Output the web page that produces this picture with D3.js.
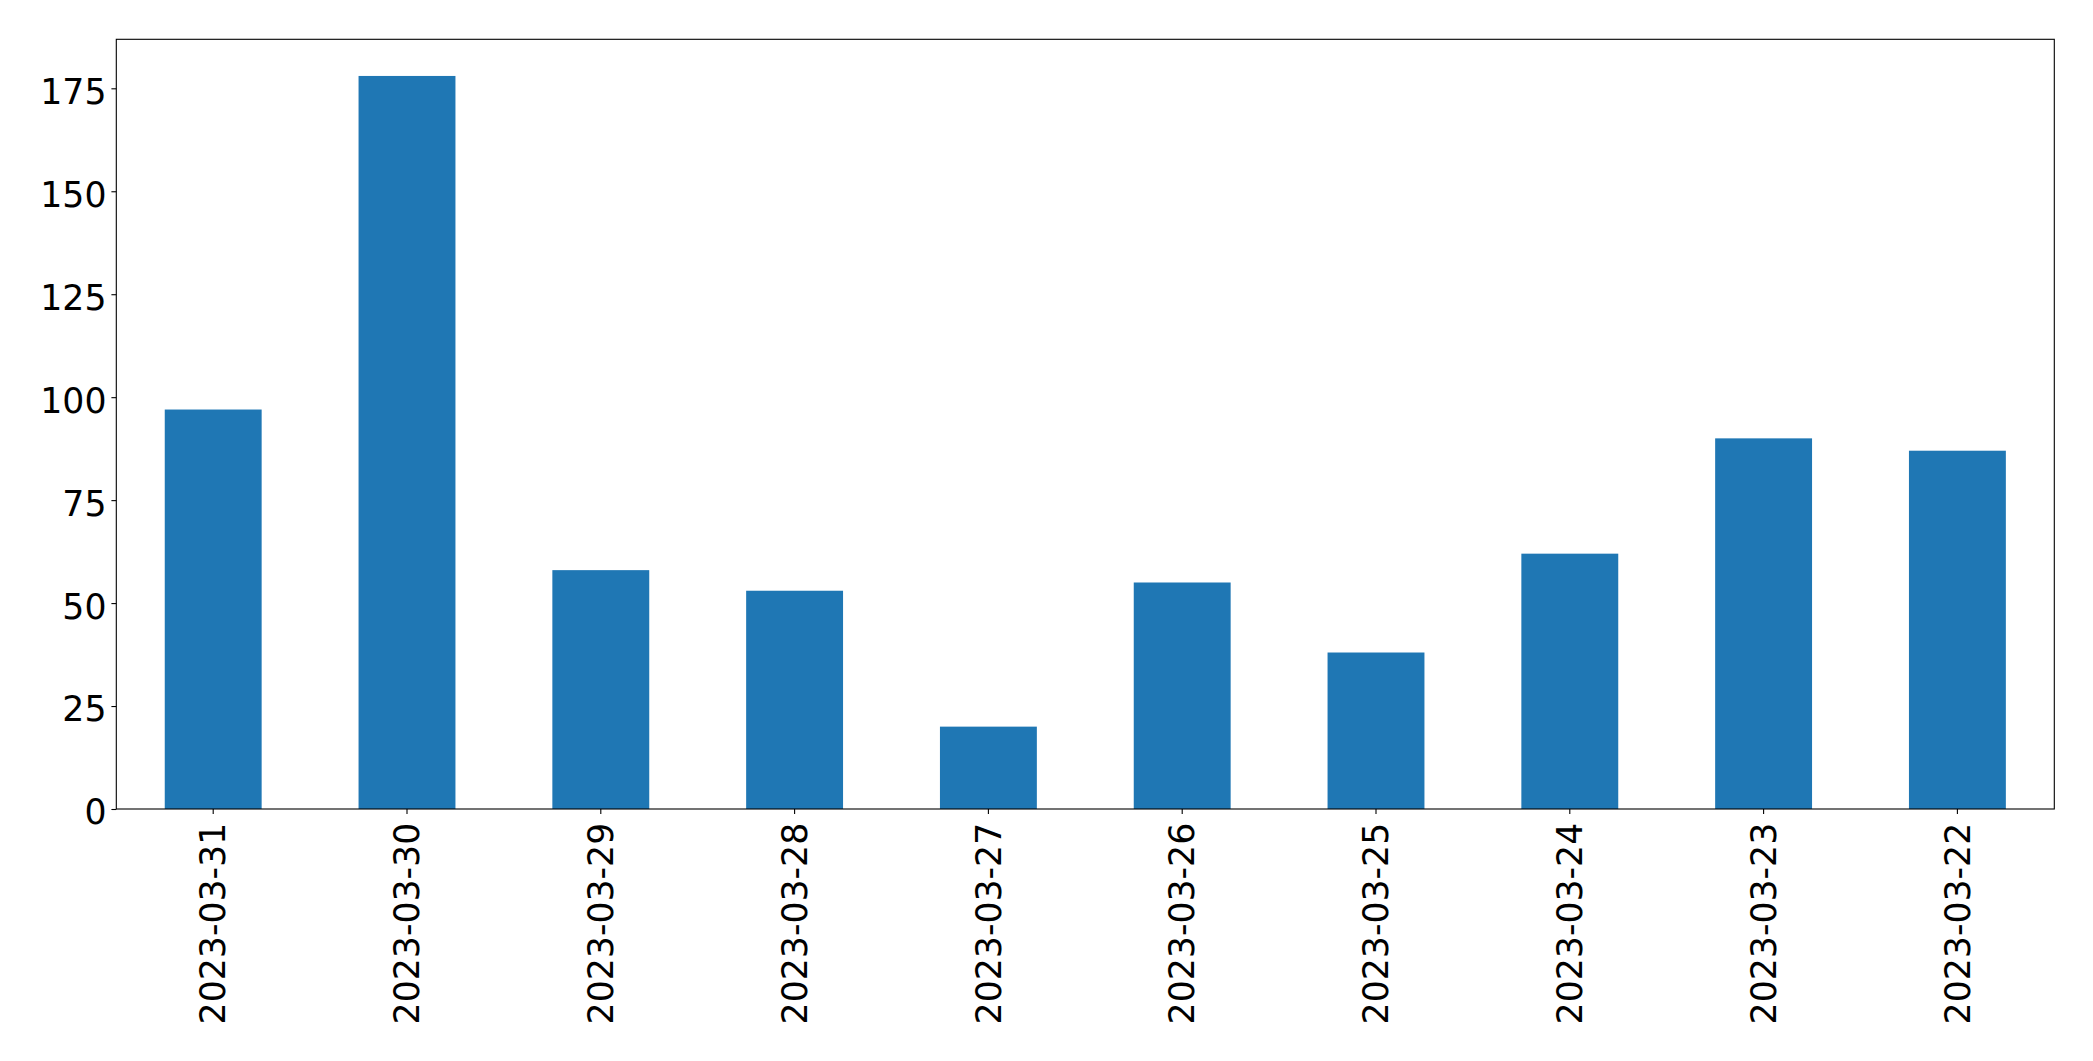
<!DOCTYPE html>
<html>
<head>
<meta charset="utf-8">
<script src="https://cdn.jsdelivr.net/npm/d3@7"></script>
<style>
  body { margin: 0; background: #fff; }
  svg text { font-family: "DejaVu Sans", sans-serif; fill: #000; }
</style>
</head>
<body>
<div id="chart"></div>
<script>
// data
var dates  = ["2023-03-31","2023-03-30","2023-03-29","2023-03-28","2023-03-27",
              "2023-03-26","2023-03-25","2023-03-24","2023-03-23","2023-03-22"];
var counts = [97, 178, 58, 53, 20, 55, 38, 62, 90, 87];
var yTicks = [0, 25, 50, 75, 100, 125, 150, 175];

var W = 2093, H = 1061;
var margin = {top: 39.3, right: W - 2054.3, bottom: H - 809, left: 116.3},
    width  = W - margin.left - margin.right,
    height = H - margin.top - margin.bottom;

var fs = 34.7, tickLen = 4.9, pad = 4.9;

var x = d3.scaleBand().domain(dates).range([0, width])
    .paddingInner(0.5).paddingOuter(0.25);
var y = d3.scaleLinear().domain([0, d3.max(counts) * 1.05]).range([height, 0]);

var svg = d3.select("#chart").append("svg")
    .attr("width", W).attr("height", H)
  .append("g")
    .attr("transform", "translate(" + margin.left + "," + margin.top + ")");

svg.selectAll(".bar")
    .data(dates.map(function(d, i){ return {key: d, value: counts[i]}; }))
  .enter().append("rect")
    .attr("class", "bar")
    .attr("fill", "#1f77b4")
    .attr("x", function(d){ return x(d.key); })
    .attr("width", x.bandwidth())
    .attr("y", function(d){ return y(d.value); })
    .attr("height", function(d){ return height - y(d.value); });

var xAxis = svg.append("g")
    .attr("transform", "translate(0," + height + ")")
    .call(d3.axisBottom(x).tickSize(tickLen).tickPadding(pad).tickSizeOuter(0));
xAxis.select(".domain").remove();
xAxis.selectAll(".tick line").attr("stroke", "#000").attr("stroke-width", 1.1);
xAxis.selectAll("text")
    .style("font-size", fs + "px")
    .attr("text-anchor", "end")
    .attr("x", -(tickLen + pad + 4))
    .attr("y", 0)
    .attr("dy", "0.35em")
    .attr("transform", "rotate(-90)");

var yAxis = svg.append("g")
    .call(d3.axisLeft(y).tickValues(yTicks).tickSize(tickLen).tickPadding(pad).tickSizeOuter(0));
yAxis.select(".domain").remove();
yAxis.selectAll(".tick line").attr("stroke", "#000").attr("stroke-width", 1.1);
yAxis.selectAll("text")
    .style("font-size", fs + "px")
    .attr("dy", "0.43em");

// frame
svg.append("rect")
    .attr("width", width).attr("height", height)
    .attr("fill", "none")
    .attr("stroke", "#000")
    .attr("stroke-width", 1.1);
</script>
</body>
</html>
